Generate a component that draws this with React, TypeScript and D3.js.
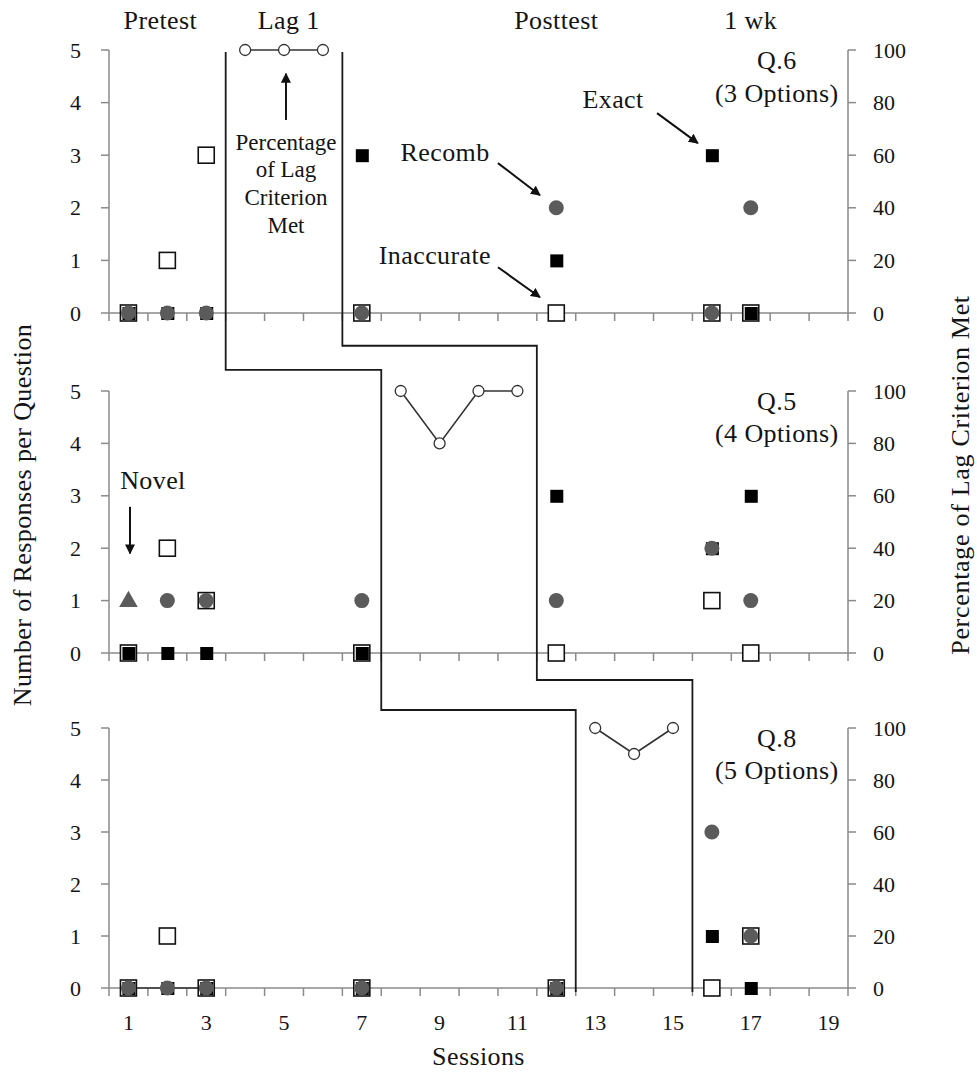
import * as d3 from "d3";

// x categories and tick labels
const sessions = d3.range(1, 20);
const sessionTickLabels = [1, 3, 5, 7, 9, 11, 13, 15, 17, 19];
const countTicks = [0, 1, 2, 3, 4, 5];
const pctTicks = [0, 20, 40, 60, 80, 100];

const phaseNames = ["Pretest", "Lag 1", "Posttest", "1 wk"];
const phaseCenters = [1.82, 5.12, 12, 17];

const panelTitles = ["Q.6", "Q.5", "Q.8"];
const panelOptions = ["(3 Options)", "(4 Options)", "(5 Options)"];

type Pt = [number, number];

// Q.6
const q6Inaccurate: Pt[] = [[1, 0], [2, 1], [3, 3], [7, 0], [12, 0], [16, 0], [17, 0]];
const q6Exact: Pt[] = [[1, 0], [2, 0], [3, 0], [7, 3], [12, 1], [16, 3], [17, 0]];
const q6Recomb: Pt[] = [[1, 0], [2, 0], [3, 0], [7, 0], [12, 2], [16, 0], [17, 2]];
const q6Novel: Pt[] = [];
const q6Lag: Pt[][] = [[[4, 100], [5, 100], [6, 100]]];

// Q.5
const q5Inaccurate: Pt[] = [[1, 0], [2, 2], [3, 1], [7, 0], [12, 0], [16, 1], [17, 0]];
const q5Exact: Pt[] = [[1, 0], [2, 0], [3, 0], [7, 0], [12, 3], [16, 2], [17, 3]];
const q5Recomb: Pt[] = [[2, 1], [3, 1], [7, 1], [12, 1], [16, 2], [17, 1]];
const q5Novel: Pt[] = [[1, 1]];
const q5Lag: Pt[][] = [[[8, 100], [9, 80], [10, 100], [11, 100]]];

// Q.8
const q8Inaccurate: Pt[] = [[1, 0], [2, 1], [3, 0], [7, 0], [12, 0], [16, 0], [17, 1]];
const q8Exact: Pt[] = [[1, 0], [2, 0], [3, 0], [7, 0], [12, 0], [16, 1], [17, 0]];
const q8Recomb: Pt[] = [[1, 0], [2, 0], [3, 0], [7, 0], [12, 0], [16, 3], [17, 1]];
const q8Novel: Pt[] = [];
const q8Lag: Pt[][] = [[[1, 0], [2, 0], [3, 0]], [[13, 100], [14, 90], [15, 100]]];

// phase change lines: session boundaries for each panel
const phaseLineA = [3.5, 7.5, 12.5];
const phaseLineB = [6.5, 11.5, 15.5];

const W = 977;
const H = 1074;
const X0 = 109;
const X1 = 848;
const panelTop = [50, 391, 728];
const panelBottom = [313, 653, 988];
// where the phase lines jog between panels (fraction of the gap)
const jogA = [0.73, 0.76];
const jogB = [0.42, 0.36];

const FONT = "'Liberation Serif', 'Times New Roman', serif";
const AXIS = "#8a8a8a";
const GRAY = "#5b5b5b";
const INK = "#141414";
const TICK_FS = 22;
const LABEL_FS = 26;
const LS = 0.4;

const x = d3.scaleLinear().domain([0.5, 19.5]).range([X0, X1]);

function Label({ x: tx, y: ty, children, size = LABEL_FS, transform, ls = LS }: any) {
  return (
    <text x={tx} y={ty} transform={transform} textAnchor="middle" dominantBaseline="central"
      fontSize={size} fontFamily={FONT} fill={INK} letterSpacing={size === LABEL_FS ? ls : 0}>{children}</text>
  );
}

function Panel({ i, inacc, exact, recomb, novel, lag }: any) {
  const y = d3.scaleLinear().domain([0, 5]).range([panelBottom[i], panelTop[i]]);
  const yp = d3.scaleLinear().domain([0, 100]).range([panelBottom[i], panelTop[i]]);
  const line = d3.line<Pt>().x(d => x(d[0])).y(d => yp(d[1]));
  const tri = d3.symbol().type(d3.symbolTriangle).size(150)();
  return (
    <g>
      {/* axes */}
      <line x1={X0} x2={X1} y1={y(0)} y2={y(0)} stroke={AXIS} strokeWidth={1.5} />
      <line x1={X0} x2={X0} y1={y(0)} y2={y(5)} stroke={AXIS} strokeWidth={1.5} />
      <line x1={X1} x2={X1} y1={y(0)} y2={y(5)} stroke={AXIS} strokeWidth={1.5} />
      {d3.range(0.5, 20, 1).map(t => (
        <line key={t} x1={x(t)} x2={x(t)} y1={y(0)} y2={y(0) + 8} stroke={AXIS} strokeWidth={1.5} />
      ))}
      {countTicks.map(t => (
        <g key={t}>
          <line x1={X0 - 8} x2={X0} y1={y(t)} y2={y(t)} stroke={AXIS} strokeWidth={1.5} />
          <text x={X0 - 28} y={y(t)} textAnchor="end" dominantBaseline="central"
            fontSize={TICK_FS} fontFamily={FONT} fill={INK}>{t}</text>
        </g>
      ))}
      {pctTicks.map(t => (
        <g key={t}>
          <line x1={X1} x2={X1 + 8} y1={yp(t)} y2={yp(t)} stroke={AXIS} strokeWidth={1.5} />
          <text x={X1 + 25} y={yp(t)} textAnchor="start" dominantBaseline="central"
            fontSize={TICK_FS} fontFamily={FONT} fill={INK}>{t}</text>
        </g>
      ))}
      {/* lag criterion line */}
      {lag.map((seg: Pt[], k: number) => (
        <g key={k}>
          <path d={line(seg) || ""} fill="none" stroke="#333" strokeWidth={1.6} />
          {seg.map((d, j) => (
            <circle key={j} cx={x(d[0])} cy={yp(d[1])} r={5.5} fill="#fff" stroke="#333" strokeWidth={1.3} />
          ))}
        </g>
      ))}
      {inacc.map((d: Pt, j: number) => (
        <rect key={"i" + j} x={x(d[0]) - 8} y={y(d[1]) - 8} width={16} height={16}
          fill="#fff" stroke="#111" strokeWidth={1.6} />
      ))}
      {exact.map((d: Pt, j: number) => (
        <rect key={"e" + j} x={x(d[0]) - 6} y={y(d[1]) - 6} width={13} height={13} fill="#000" />
      ))}
      {recomb.map((d: Pt, j: number) => (
        <circle key={"r" + j} cx={x(d[0])} cy={y(d[1])} r={7.5} fill={GRAY} />
      ))}
      {novel.map((d: Pt, j: number) => (
        <path key={"n" + j} d={tri || ""} transform={`translate(${x(d[0])},${y(d[1]) + 1})`} fill={GRAY} />
      ))}
      <Label x={x(17.67)} y={y(4.8)}>{panelTitles[i]}</Label>
      <Label x={x(17.67)} y={y(4.18)}>{panelOptions[i]}</Label>
    </g>
  );
}

function phasePath(bounds: number[], jog: number[]) {
  const pts: [number, number][] = [];
  pts.push([x(bounds[0]), panelTop[0] + 2]);
  for (let k = 0; k < 2; k++) {
    const yj = panelBottom[k] + (panelTop[k + 1] - panelBottom[k]) * jog[k];
    pts.push([x(bounds[k]), yj]);
    pts.push([x(bounds[k + 1]), yj]);
  }
  pts.push([x(bounds[2]), panelBottom[2] + 4]);
  return d3.line()(pts) || "";
}

export default function App() {
  const yTop = d3.scaleLinear().domain([0, 5]).range([panelBottom[0], panelTop[0]]);
  const yMid = d3.scaleLinear().domain([0, 5]).range([panelBottom[1], panelTop[1]]);
  const arrows: [number, number, number, number, any][] = [
    [10.5, 2.85, 11.58, 2.24, yTop],
    [10.5, 0.87, 11.58, 0.3, yTop],
    [14.59, 3.8, 15.64, 3.23, yTop],
    [5.05, 3.67, 5.05, 4.55, yTop],
    [1.04, 2.79, 1.04, 1.9, yMid],
  ];
  return (
    <svg width={W} height={H} style={{ position: "absolute", left: 0, top: 0, background: "#fff" }}>
      <defs>
        <marker id="ah" viewBox="0 0 10 10" refX={9} refY={5} markerWidth={5} markerHeight={5}
          orient="auto" markerUnits="strokeWidth">
          <path d="M0,0 L10,5 L0,10 z" fill="#111" />
        </marker>
      </defs>
      <rect width={W} height={H} fill="#fff" />
      <Panel i={0} inacc={q6Inaccurate} exact={q6Exact} recomb={q6Recomb} novel={q6Novel} lag={q6Lag} />
      <Panel i={1} inacc={q5Inaccurate} exact={q5Exact} recomb={q5Recomb} novel={q5Novel} lag={q5Lag} />
      <Panel i={2} inacc={q8Inaccurate} exact={q8Exact} recomb={q8Recomb} novel={q8Novel} lag={q8Lag} />

      <path d={phasePath(phaseLineA, jogA)} fill="none" stroke="#1a1a1a" strokeWidth={1.8} />
      <path d={phasePath(phaseLineB, jogB)} fill="none" stroke="#1a1a1a" strokeWidth={1.8} />

      {phaseNames.map((p, k) => (
        <Label key={p} x={x(phaseCenters[k])} y={20}>{p}</Label>
      ))}

      {sessionTickLabels.map(s => (
        <text key={s} x={x(s)} y={1022} textAnchor="middle" dominantBaseline="central"
          fontSize={TICK_FS} fontFamily={FONT} fill={INK}>{s}</text>
      ))}
      <Label x={x(10)} y={1056}>Sessions</Label>

      <Label transform="translate(22,515) rotate(-90)" x={0} y={0}>Number of Responses per Question</Label>
      <Label transform="translate(960,475) rotate(-90)" x={0} y={0} ls={0.7}>Percentage of Lag Criterion Met</Label>

      {/* annotations */}
      {arrows.map(([s0, c0, s1, c1, ys], k) => (
        <line key={k} x1={x(s0)} y1={ys(c0)} x2={x(s1)} y2={ys(c1)} stroke="#111" strokeWidth={2}
          markerEnd="url(#ah)" />
      ))}
      <Label x={x(9.14)} y={yTop(3.06)}>Recomb</Label>
      <Label x={x(8.88)} y={yTop(1.1)}>Inaccurate</Label>
      <Label x={x(13.46)} y={yTop(4.05)}>Exact</Label>
      {["Percentage", "of Lag", "Criterion", "Met"].map((t, k) => (
        <Label key={t} x={x(5.05)} y={yTop(3.25 - k * 0.53)} size={23}>{t}</Label>
      ))}
      <Label x={x(1.63)} y={yMid(3.3)}>Novel</Label>
    </svg>
  );
}
